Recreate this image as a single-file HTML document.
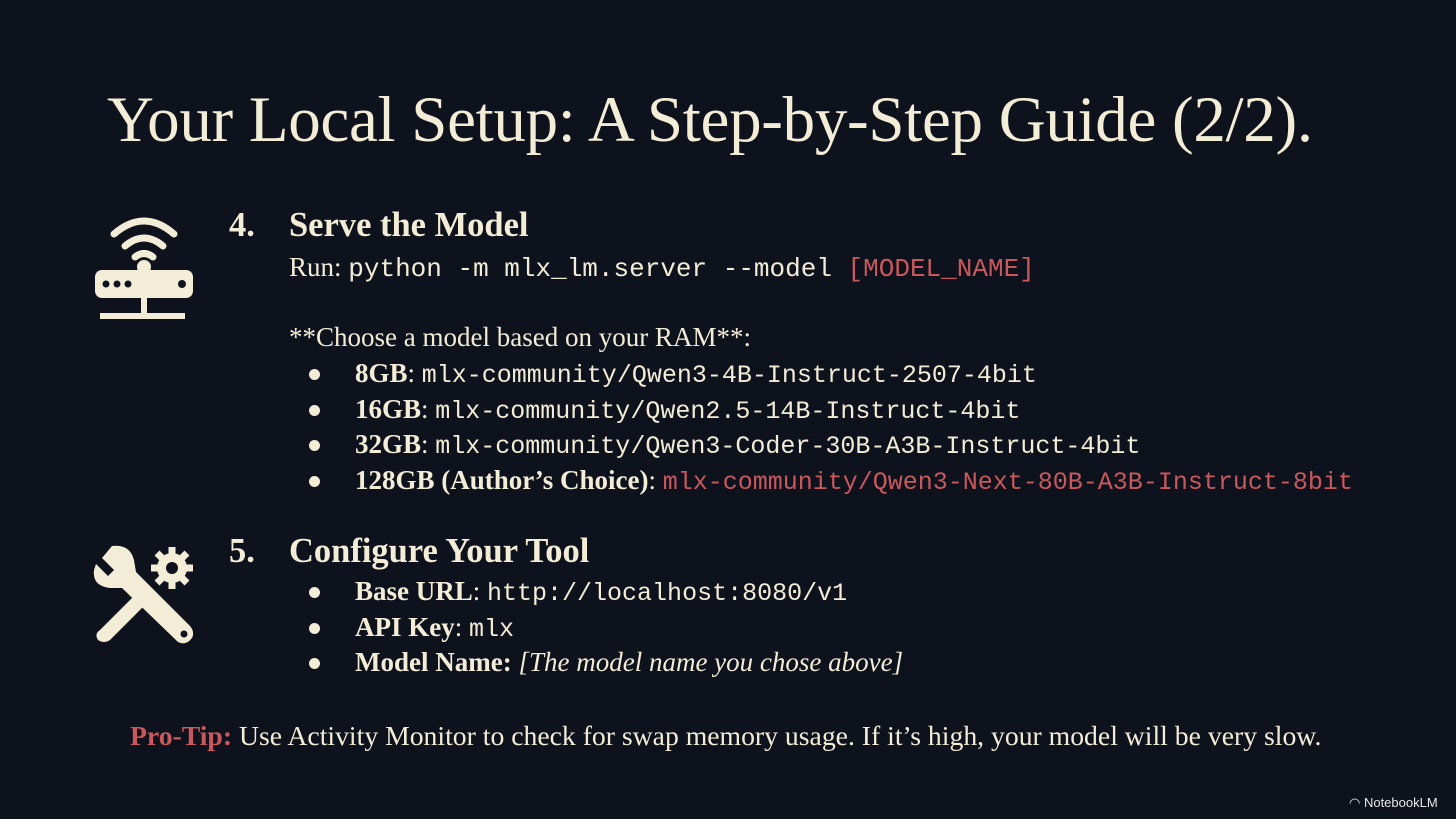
<!DOCTYPE html>
<html><head><meta charset="utf-8"><style>
*{margin:0;padding:0;box-sizing:border-box}
body{width:1456px;height:819px;background:#0e121d;overflow:hidden;position:relative;font-family:"Liberation Serif",serif;color:#f3ecd6}
.l{position:absolute;white-space:nowrap;line-height:1}
.m{font-family:"Liberation Mono",monospace;font-size:24px}
.r{color:#c9585d}
b{font-weight:bold}
.h{font-size:34.5px;font-weight:bold}
.t{font-size:27px}
.dot{position:absolute;width:11px;height:11px;border-radius:50%;background:#f3ecd6}
</style></head><body>
<div class="l" style="left:107px;top:88px;font-size:65px;letter-spacing:-0.3px">Your Local Setup: A Step-by-Step Guide (2/2).</div>

<svg style="position:absolute;left:92px;top:208px" width="104" height="116" viewBox="0 0 104 116">
<g fill="none" stroke="#f3ecd6" stroke-width="7" stroke-linecap="round">
<path d="M22 26 Q52 0 82 26"/><path d="M33 38 Q52 22 71 38"/><path d="M43 49 Q52 42 61 49"/>
</g>
<circle cx="52" cy="59" r="7" fill="#f3ecd6"/>
<rect x="3" y="62" width="98" height="28" rx="7" fill="#f3ecd6"/>
<circle cx="14" cy="76" r="3.5" fill="#0e121d"/><circle cx="25" cy="76" r="3.5" fill="#0e121d"/><circle cx="36" cy="76" r="3.5" fill="#0e121d"/><circle cx="90" cy="76" r="4" fill="#0e121d"/>
<rect x="49" y="88" width="6" height="18" fill="#f3ecd6"/>
<rect x="8" y="105" width="85" height="6" fill="#f3ecd6"/>
</svg>

<svg style="position:absolute;left:92px;top:542px" width="106" height="106" viewBox="0 0 106 106">
<g fill="#f3ecd6">
<path d="M20 4 L10 16 L22 28 L16 34 L4 22 L2 28 Q0 44 18 46 L30 46 L86 100 Q94 104 100 96 Q103 90 98 84 L44 30 L42 18 Q38 2 20 4Z"/>
<path d="M8 88 L46 50 L56 60 L18 98 Q12 102 6 98 Q2 92 8 88Z"/>
<circle cx="80" cy="26" r="15"/>
<g stroke="#f3ecd6" stroke-width="7"><line x1="80" y1="5" x2="80" y2="47"/><line x1="59" y1="26" x2="101" y2="26"/><line x1="65" y1="11" x2="95" y2="41"/><line x1="95" y1="11" x2="65" y2="41"/></g>
<circle cx="80" cy="26" r="6" fill="#0e121d"/>
<circle cx="92" cy="92" r="3.5" fill="#0e121d"/>
</g></svg>

<div class="l h" style="left:229px;top:208px">4.</div>
<div class="l h" style="left:289px;top:208px">Serve the Model</div>
<div class="l t" style="left:289px;top:254px">Run: <span class="m" style="font-size:26px">python -m mlx_lm.server --model <span class="r">[MODEL_NAME]</span></span></div>
<div class="l t" style="left:289px;top:324px">**Choose a model based on your RAM**:</div>

<div class="dot" style="left:309px;top:369px"></div>
<div class="l t" style="left:355px;top:360px"><b>8GB</b>: <span class="m" style="font-size:25px">mlx-community/Qwen3-4B-Instruct-2507-4bit</span></div>
<div class="dot" style="left:309px;top:405px"></div>
<div class="l t" style="left:355px;top:396px"><b>16GB</b>: <span class="m" style="font-size:25px">mlx-community/Qwen2.5-14B-Instruct-4bit</span></div>
<div class="dot" style="left:309px;top:440px"></div>
<div class="l t" style="left:355px;top:431px"><b>32GB</b>: <span class="m" style="font-size:25px">mlx-community/Qwen3-Coder-30B-A3B-Instruct-4bit</span></div>
<div class="dot" style="left:309px;top:476px"></div>
<div class="l t" style="left:355px;top:467px"><b>128GB (Author’s Choice)</b>: <span class="m r" style="font-size:25px">mlx-community/Qwen3-Next-80B-A3B-Instruct-8bit</span></div>

<div class="l h" style="left:229px;top:534px">5.</div>
<div class="l h" style="left:289px;top:534px">Configure Your Tool</div>
<div class="dot" style="left:309px;top:587px"></div>
<div class="l t" style="left:355px;top:578px"><b>Base URL</b>: <span class="m" style="font-size:25px">http://localhost:8080/v1</span></div>
<div class="dot" style="left:309px;top:623px"></div>
<div class="l t" style="left:355px;top:614px"><b>API Key</b>: <span class="m" style="font-size:25px">mlx</span></div>
<div class="dot" style="left:309px;top:658px"></div>
<div class="l t" style="left:355px;top:649px"><b>Model Name:</b> <i>[The model name you chose above]</i></div>

<div class="l" style="left:130px;top:722px;font-size:27.7px"><span class="r" style="font-weight:bold">Pro-Tip:</span> Use Activity Monitor to check for swap memory usage. If it’s high, your model will be very slow.</div>

<div class="l" style="left:1349px;top:796px;font-family:'Liberation Sans',sans-serif;font-size:13px;color:#e8e8e8">◠ NotebookLM</div>
</body></html>
